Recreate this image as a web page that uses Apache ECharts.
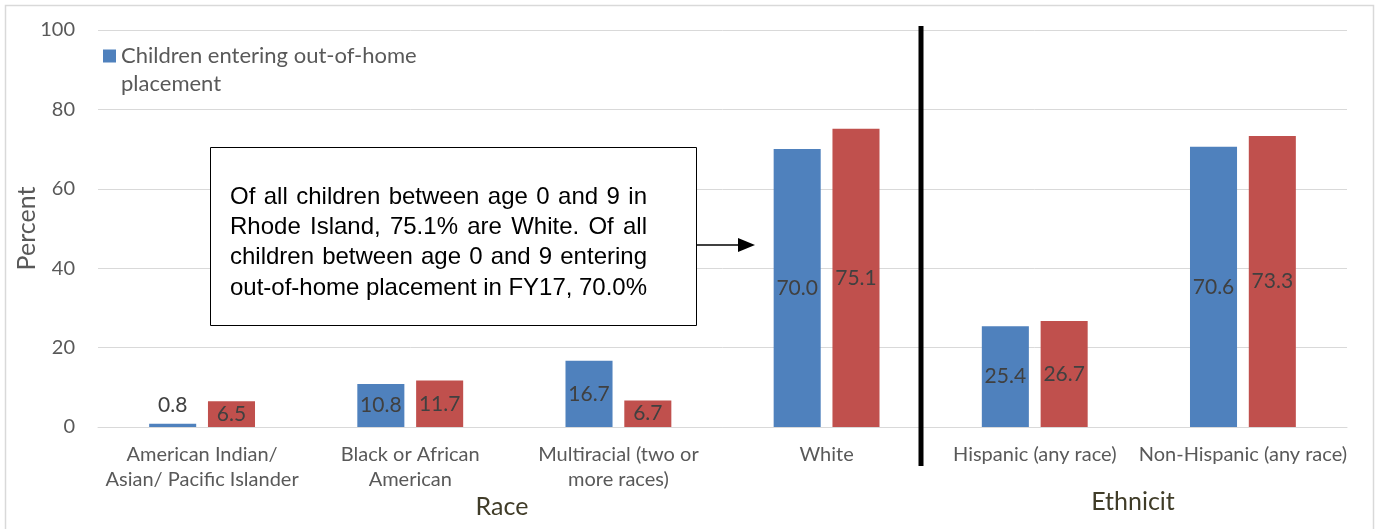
<!DOCTYPE html>
<html>
<head>
<meta charset="utf-8">
<script src="https://cdn.jsdelivr.net/npm/echarts@6/dist/echarts.min.js"></script>
<style>
  html, body { margin: 0; padding: 0; background: #ffffff; }
  #chart { width: 1376px; height: 529px; }
</style>
</head>
<body>
<div id="chart"></div>
<script>
// Categories: four race groups followed by two ethnicity groups
const categories = [
  'American Indian/\nAsian/ Pacific Islander',
  'Black or African\nAmerican',
  'Multiracial (two or\nmore races)',
  'White',
  'Hispanic (any race)',
  'Non-Hispanic (any race)'
];

// Percent of children ages 0-9 entering out-of-home placement, FY17
const placementValues = [0.8, 10.8, 16.7, 70.0, 25.4, 70.6];

// Percent of all children ages 0-9 in Rhode Island
const populationValues = [6.5, 11.7, 6.7, 75.1, 26.7, 73.3];

const yTicks = { min: 0, max: 100, interval: 20 };

const placementName = 'Children entering out-of-home placement';
const populationName = 'Children ages 0-9 in Rhode Island';

// Callout text, one entry per line
const calloutLines = [
  'Of all children between age 0 and 9 in',
  'Rhode Island, 75.1% are White. Of all',
  'children between age 0 and 9 entering',
  'out-of-home placement in FY17, 70.0%'
];

const labelFont = 'Lato, "Open Sans", sans-serif';
const calloutFont = '24px "Liberation Sans", Arial, sans-serif';
const gray = '#595959';

// Short bars get their value label above the bar instead of inside it
function withLabels(values) {
  return values.map(v => v < 3
    ? { value: v, label: { position: 'top', distance: 8 } }
    : { value: v });
}

// Lay out the callout lines fully justified between left and right edges
function justifiedText(lines, left, right, firstY, lineHeight, font) {
  const ctx = document.createElement('canvas').getContext('2d');
  ctx.font = font;
  const out = [];
  lines.forEach((line, i) => {
    const words = line.split(' ');
    const widths = words.map(w => ctx.measureText(w).width);
    const total = widths.reduce((a, b) => a + b, 0);
    const gap = (right - left - total) / (words.length - 1);
    let x = left;
    words.forEach((w, j) => {
      out.push({
        type: 'text', z: 51,
        style: { text: w, x: x, y: firstY + i * lineHeight, fill: '#000000', font: font, verticalAlign: 'middle' }
      });
      x += widths[j] + gap;
    });
  });
  return out;
}

const chart = echarts.init(document.getElementById('chart'), null, { renderer: 'canvas' });

const barLabel = {
  show: true,
  position: 'inside',
  color: '#404040',
  fontFamily: labelFont,
  fontSize: 21,
  formatter: p => p.value.toFixed(1)
};

chart.setOption({
  animation: false,
  backgroundColor: '#ffffff',
  grid: { left: 98, right: 29, top: 30, bottom: 102 },
  legend: {
    data: [placementName],
    left: 98,
    top: 9,
    orient: 'vertical',
    itemWidth: 13,
    itemHeight: 13,
    icon: 'rect',
    textStyle: {
      color: gray,
      fontFamily: labelFont,
      fontSize: 22,
      lineHeight: 28
    },
    // leading blank line keeps the swatch level with the first text line
    formatter: name => '\n' + name.replace(' placement', '\nplacement')
  },
  xAxis: {
    type: 'category',
    data: categories,
    axisLine: { lineStyle: { color: '#D9D9D9', width: 1 } },
    axisTick: { show: false },
    axisLabel: {
      interval: 0,
      color: gray,
      fontFamily: labelFont,
      fontSize: 20,
      lineHeight: 25,
      margin: 15
    }
  },
  yAxis: {
    type: 'value',
    min: yTicks.min,
    max: yTicks.max,
    interval: yTicks.interval,
    name: 'Percent',
    nameLocation: 'middle',
    nameGap: 59,
    nameMoveOverlap: false,
    nameTextStyle: { color: gray, fontFamily: labelFont, fontSize: 25 },
    axisLine: { show: false },
    axisTick: { show: false },
    axisLabel: { color: gray, fontFamily: labelFont, fontSize: 20, margin: 23 },
    splitLine: { lineStyle: { color: '#D9D9D9', width: 1 } }
  },
  series: [
    {
      name: placementName,
      type: 'bar',
      data: withLabels(placementValues),
      itemStyle: { color: '#4F81BD' },
      barWidth: '22.6%',
      barGap: '25%',
      label: barLabel
    },
    {
      name: populationName,
      type: 'bar',
      data: withLabels(populationValues),
      itemStyle: { color: '#C0504D' },
      barWidth: '22.6%',
      barGap: '25%',
      label: barLabel
    }
  ],
  graphic: [
    // outer frame
    {
      type: 'rect',
      shape: { x: 5.5, y: 5.5, width: 1368, height: 530 },
      style: { fill: 'none', stroke: '#D9D9D9', lineWidth: 1.5 },
      silent: true
    },
    // divider between race and ethnicity groups
    {
      type: 'line',
      shape: { x1: 921, y1: 26, x2: 921, y2: 466 },
      style: { stroke: '#000000', lineWidth: 5 },
      z: 100
    },
    // group titles
    {
      type: 'text',
      style: {
        text: 'Race', x: 502, y: 507, align: 'center', verticalAlign: 'middle',
        fill: '#403C28', font: '25px ' + labelFont
      }
    },
    {
      type: 'text',
      style: {
        text: 'Ethnicit', x: 1133, y: 502, align: 'center', verticalAlign: 'middle',
        fill: '#403C28', font: '25px ' + labelFont
      }
    },
    // callout box
    {
      type: 'rect',
      shape: { x: 210.5, y: 147.5, width: 486, height: 178 },
      style: { fill: '#ffffff', stroke: '#000000', lineWidth: 1 },
      z: 50
    },
    ...justifiedText(calloutLines, 230, 647, 197, 30.3, calloutFont),
    // callout arrow
    {
      type: 'line',
      z: 51,
      shape: { x1: 697, y1: 245, x2: 740, y2: 245 },
      style: { stroke: '#000000', lineWidth: 1.5 }
    },
    {
      type: 'polygon',
      z: 51,
      shape: { points: [[738, 238], [755, 245], [738, 252]] },
      style: { fill: '#000000' }
    }
  ]
});
</script>
</body>
</html>
